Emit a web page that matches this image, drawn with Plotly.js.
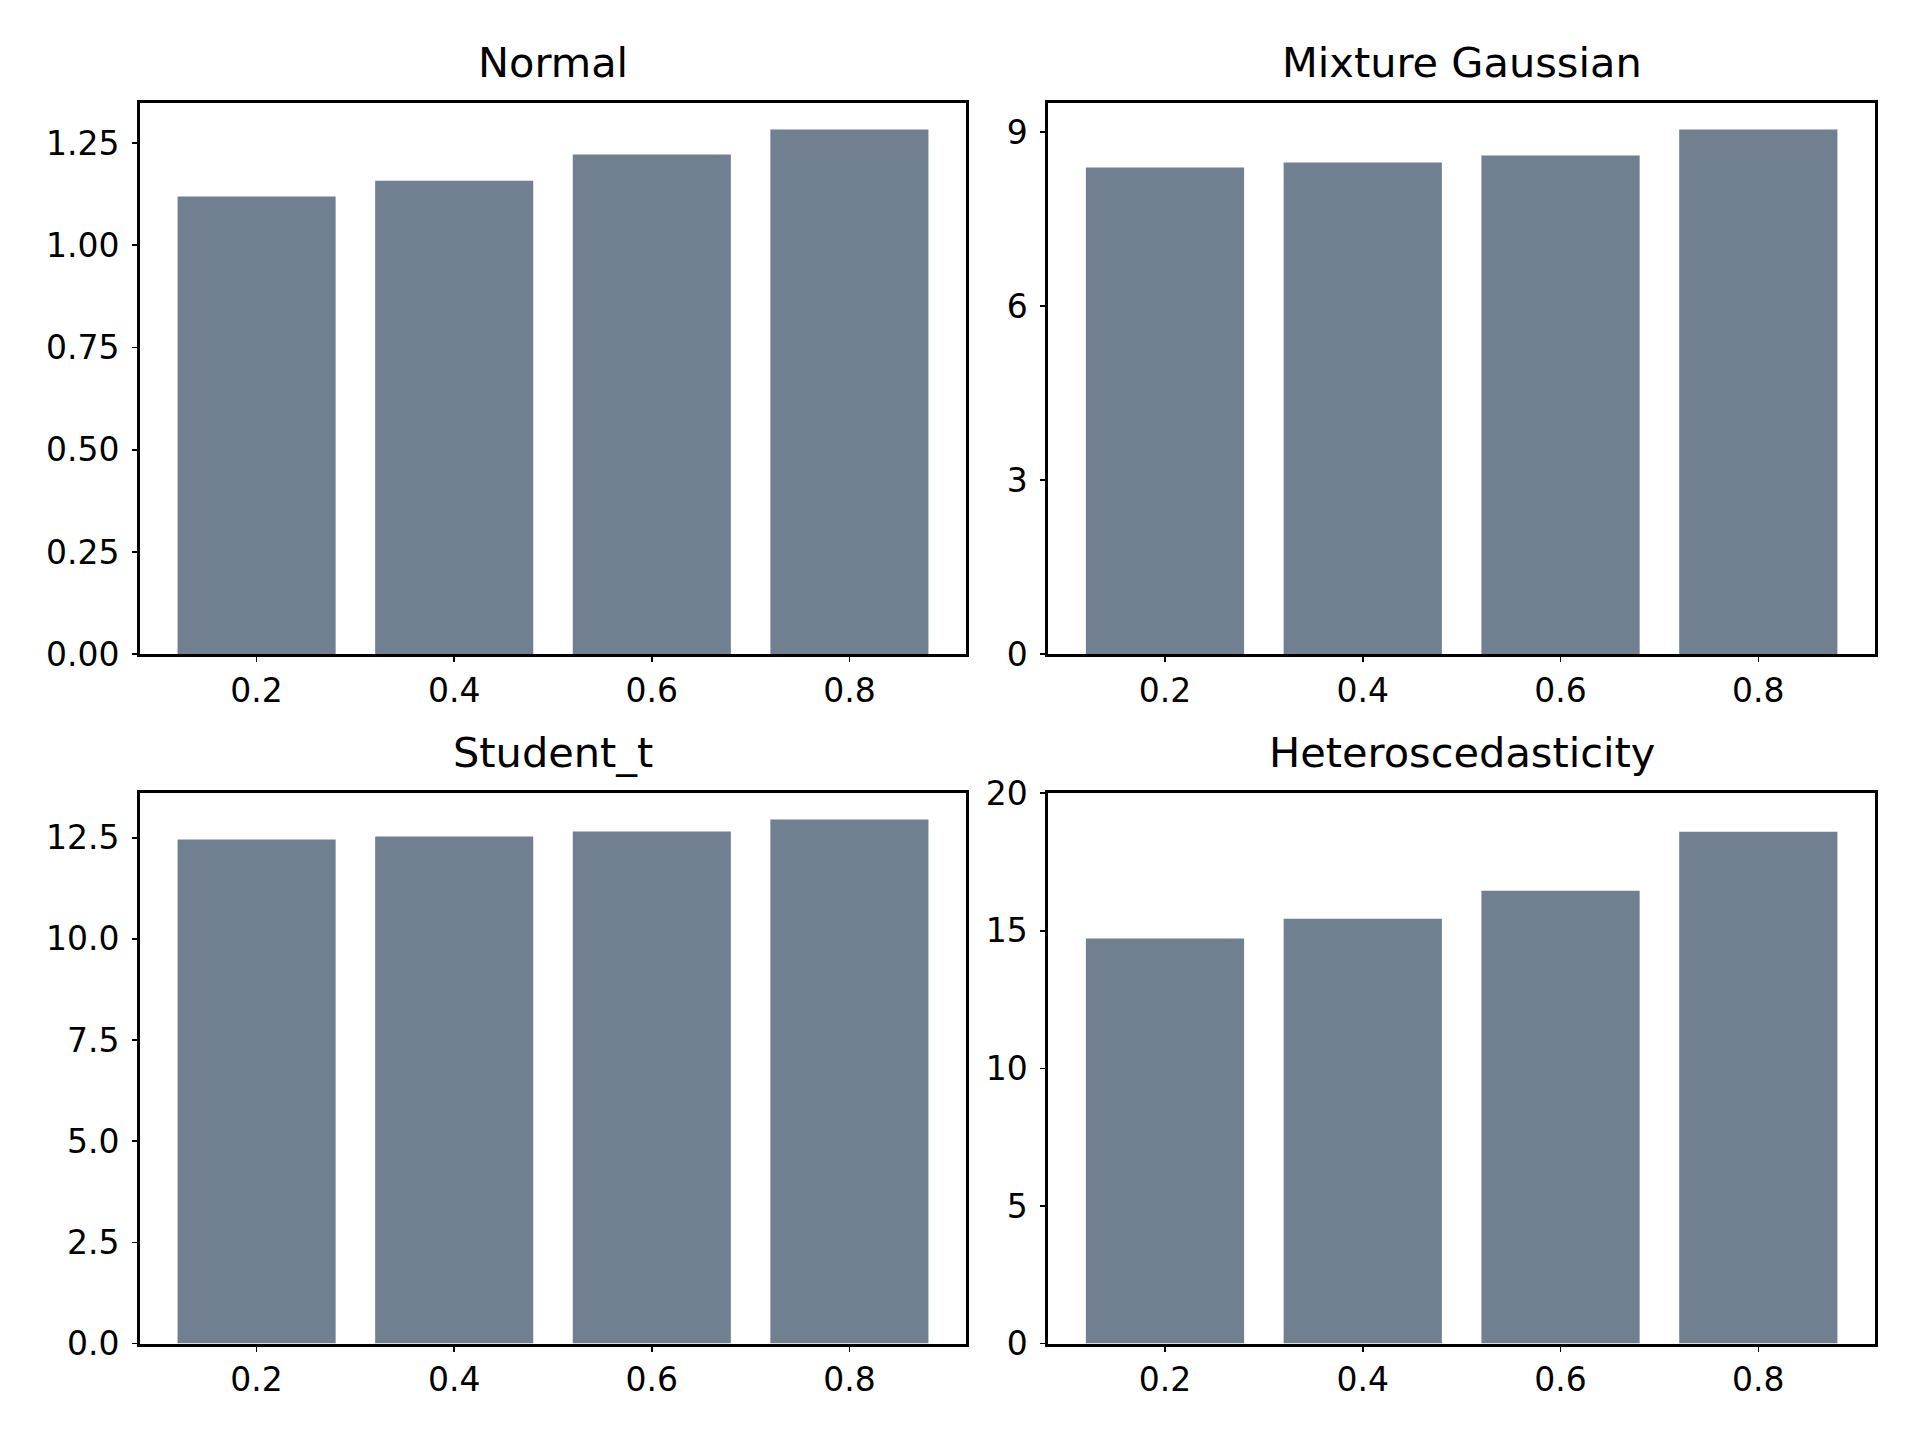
<!DOCTYPE html>
<html>
<head>
<meta charset="utf-8">
<script src="https://cdn.plot.ly/plotly-3.0.1.min.js"></script>
<style>html,body{margin:0;padding:0;background:#fff;}#chart{width:1920px;height:1440px;}</style>
</head>
<body>
<div id="chart"></div>
<script>
const categories = ['0.2', '0.4', '0.6', '0.8'];
const titles = ['Normal', 'Mixture Gaussian', 'Student_t', 'Heteroscedasticity'];
const normalVals = [1.119, 1.158, 1.222, 1.283];
const mixtureVals = [8.393, 8.478, 8.599, 9.046];
const studentVals = [12.457, 12.53, 12.654, 12.95];
const heteroVals = [14.72, 15.44, 16.46, 18.60];

const series = [normalVals, mixtureVals, studentVals, heteroVals];
const dticks = [0.25, 3, 2.5, 5];
const formats = ['.2f', 'd', '.1f', 'd'];
const yMax = [null, null, null, 20];

const W = 1920, H = 1440;
const xDomains = [[140 / W, 966 / W], [1048.3 / W, 1875 / W]];
const yDomains = [[1 - 654.3 / H, 1 - 103.3 / H], [1 - 1343.5 / H, 1 - 793.3 / H]];
const barColor = '#708090';
const font = 'DejaVu Sans, sans-serif';
const tickSize = 33;
const titleSize = 41.5;

const data = [];
const layout = {
  width: W, height: H,
  margin: {l: 0, r: 0, t: 0, b: 0},
  paper_bgcolor: '#fff', plot_bgcolor: '#fff',
  showlegend: false,
  font: {family: font, size: tickSize, color: '#000'},
  annotations: []
};

series.forEach((vals, i) => {
  const row = Math.floor(i / 2), col = i % 2;
  const n = i + 1;
  const xa = 'x' + (n === 1 ? '' : n), ya = 'y' + (n === 1 ? '' : n);
  data.push({
    type: 'bar', x: categories, y: vals, width: 0.8,
    marker: {color: barColor, line: {width: 0}},
    xaxis: xa, yaxis: ya, hoverinfo: 'skip'
  });
  const top = yMax[i] !== null ? yMax[i] : Math.max(...vals) * 1.05;
  layout['xaxis' + (n === 1 ? '' : n)] = {
    domain: xDomains[col], anchor: ya, type: 'category',
    range: [-0.59, 3.59], showgrid: false, zeroline: false,
    showline: true, mirror: true, linecolor: '#000', linewidth: 3,
    ticks: 'outside', ticklen: 5, tickwidth: 1.6, tickcolor: '#000',
    tickfont: {family: font, size: tickSize, color: '#000'}, fixedrange: true
  };
  layout['yaxis' + (n === 1 ? '' : n)] = {
    domain: yDomains[row], anchor: xa,
    range: [0, top], dtick: dticks[i], tick0: 0, tickformat: formats[i],
    showgrid: false, zeroline: false,
    showline: true, mirror: true, linecolor: '#000', linewidth: 3,
    ticks: 'outside', ticklen: 5, tickwidth: 1.6, tickcolor: '#000',
    ticklabelstandoff: 6,
    tickfont: {family: font, size: tickSize, color: '#000'}, fixedrange: true
  };
  layout.annotations.push({
    text: titles[i], xref: 'paper', yref: 'paper',
    x: (xDomains[col][0] + xDomains[col][1]) / 2, y: yDomains[row][1],
    xanchor: 'center', yanchor: 'bottom', yshift: 14, showarrow: false,
    font: {family: font, size: titleSize, color: '#000'}
  });
});

Plotly.newPlot('chart', data, layout, {displayModeBar: false, staticPlot: true});
</script>
</body>
</html>
